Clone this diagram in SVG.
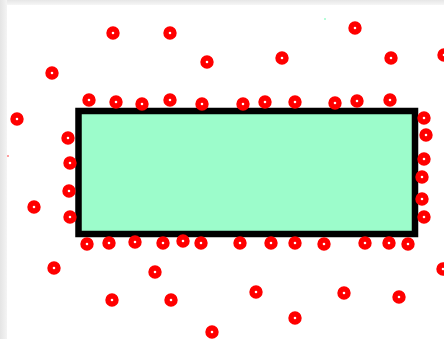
<svg xmlns="http://www.w3.org/2000/svg" width="444" height="339" viewBox="0 0 444 339">
<defs>
<style>
.p{fill:none;stroke:#ff0000;stroke-width:5.4}
.speck{stroke:none}
</style>
<linearGradient id="tg" x1="0" y1="0" x2="0" y2="1"><stop offset="0" stop-color="#e6e6e6"/><stop offset="1" stop-color="#f6f6f6"/></linearGradient>
<linearGradient id="lg" x1="0" y1="0" x2="1" y2="0"><stop offset="0" stop-color="#e4e4e4"/><stop offset="1" stop-color="#f4f4f4"/></linearGradient>
</defs>
<rect width="444" height="339" fill="#ffffff"/>
<rect x="0" y="0" width="444" height="5" fill="url(#tg)"/>
<rect x="0" y="0" width="7" height="339" fill="url(#lg)"/>
<g id="box">
<rect x="78.5" y="111" width="336.5" height="123" fill="#9cfccb" stroke="#000000" stroke-width="6.5"/>
</g>
<g id="points">
<circle class="p" cx="113" cy="33" r="4"/>
<circle class="p" cx="170" cy="33" r="4"/>
<circle class="p" cx="207" cy="62" r="4"/>
<circle class="p" cx="52" cy="73" r="4"/>
<circle class="p" cx="89" cy="100" r="4"/>
<circle class="p" cx="116" cy="102" r="4"/>
<circle class="p" cx="142" cy="104" r="4"/>
<circle class="p" cx="170" cy="100" r="4"/>
<circle class="p" cx="202" cy="104" r="4"/>
<circle class="p" cx="17" cy="119" r="4"/>
<circle class="p" cx="355" cy="28" r="4"/>
<circle class="p" cx="282" cy="58" r="4"/>
<circle class="p" cx="391" cy="58" r="4"/>
<circle class="p" cx="444" cy="55" r="4"/>
<circle class="p" cx="243" cy="104" r="4"/>
<circle class="p" cx="265" cy="102" r="4"/>
<circle class="p" cx="295" cy="102" r="4"/>
<circle class="p" cx="335" cy="103" r="4"/>
<circle class="p" cx="357" cy="101" r="4"/>
<circle class="p" cx="390" cy="100" r="4"/>
<circle class="p" cx="68" cy="138" r="4"/>
<circle class="p" cx="70" cy="163" r="4"/>
<circle class="p" cx="69" cy="191" r="4"/>
<circle class="p" cx="34" cy="207" r="4"/>
<circle class="p" cx="70" cy="217" r="4"/>
<circle class="p" cx="424" cy="118" r="4"/>
<circle class="p" cx="426" cy="135" r="4"/>
<circle class="p" cx="424" cy="159" r="4"/>
<circle class="p" cx="422" cy="177" r="4"/>
<circle class="p" cx="422" cy="199" r="4"/>
<circle class="p" cx="424" cy="217" r="4"/>
<circle class="p" cx="87" cy="244" r="4"/>
<circle class="p" cx="109" cy="243" r="4"/>
<circle class="p" cx="135" cy="242" r="4"/>
<circle class="p" cx="163" cy="243" r="4"/>
<circle class="p" cx="183" cy="241" r="4"/>
<circle class="p" cx="201" cy="243" r="4"/>
<circle class="p" cx="240" cy="243" r="4"/>
<circle class="p" cx="271" cy="243" r="4"/>
<circle class="p" cx="295" cy="243" r="4"/>
<circle class="p" cx="324" cy="244" r="4"/>
<circle class="p" cx="365" cy="243" r="4"/>
<circle class="p" cx="389" cy="243" r="4"/>
<circle class="p" cx="408" cy="244" r="4"/>
<circle class="p" cx="54" cy="268" r="4"/>
<circle class="p" cx="155" cy="272" r="4"/>
<circle class="p" cx="112" cy="300" r="4"/>
<circle class="p" cx="171" cy="300" r="4"/>
<circle class="p" cx="212" cy="332" r="4"/>
<circle class="p" cx="256" cy="292" r="4"/>
<circle class="p" cx="344" cy="293" r="4"/>
<circle class="p" cx="399" cy="297" r="4"/>
<circle class="p" cx="295" cy="318" r="4"/>
<circle class="p" cx="443" cy="269" r="4"/>
<circle class="speck" cx="8" cy="156" r="1" fill="#ff8080"/>
<circle class="speck" cx="325" cy="19" r="1" fill="#9cfccb"/>
</g>
</svg>
